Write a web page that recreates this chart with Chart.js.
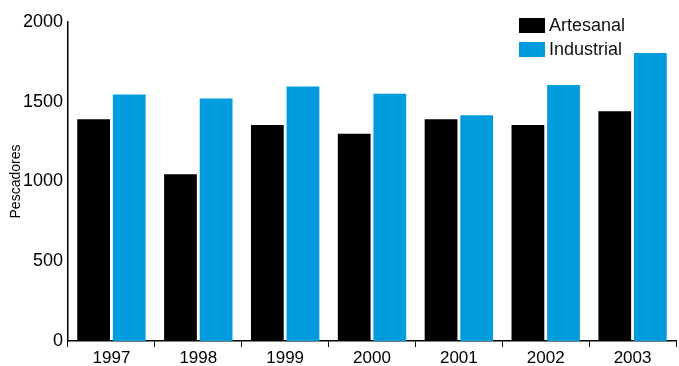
<!DOCTYPE html>
<html>
<head>
<meta charset="utf-8">
<script src="https://cdn.jsdelivr.net/npm/chart.js@4"></script>
<style>
  html, body { margin: 0; padding: 0; background: #fff; }
  #wrap { width: 679px; height: 366px; }
</style>
</head>
<body>
<div id="wrap"><canvas id="grafico"></canvas></div>
<script>
// Dados
var anos = ['1997', '1998', '1999', '2000', '2001', '2002', '2003'];
var artesanal = [1390, 1045, 1355, 1300, 1390, 1355, 1440];
var industrial = [1545, 1520, 1595, 1550, 1415, 1605, 1805];
var ticksY = [0, 500, 1000, 1500, 2000];

var fonte = "'Liberation Sans', Arial, sans-serif";

// Legenda dentro do gráfico, canto superior direito
var legendaPlugin = {
  id: 'legendaCaixa',
  afterDraw: function (chart) {
    var ctx = chart.ctx;
    ctx.save();
    ctx.font = '18px ' + fonte;
    ctx.textBaseline = 'middle';
    chart.data.datasets.forEach(function (ds, i) {
      var y = 18 + i * 24;
      ctx.fillStyle = ds.backgroundColor;
      ctx.fillRect(519, y, 26, 15);
      ctx.fillStyle = '#111';
      ctx.fillText(ds.label, 549, y + 8);
    });
    ctx.restore();
  }
};

var dados = {
  labels: anos,
  datasets: [
    { label: 'Artesanal', data: artesanal, backgroundColor: '#000000' },
    { label: 'Industrial', data: industrial, backgroundColor: '#009cde' }
  ]
};

var opcoes = {
  responsive: true,
  maintainAspectRatio: false,
  animation: false,
  layout: { padding: { top: 22, right: 3, left: 0, bottom: 0 } },
  datasets: {
    bar: { categoryPercentage: 0.82, barPercentage: 0.92 }
  },
  plugins: {
    legend: { display: false },
    tooltip: { enabled: false }
  },
  scales: {
    x: {
      grid: { display: true, offset: true, drawOnChartArea: false, drawTicks: true, tickLength: 6, color: '#000', lineWidth: 1 },
      border: { display: true, color: '#000', width: 1.5 },
      ticks: { color: '#000', font: { size: 17, family: fonte }, padding: 1 },
      afterFit: function (scale) { scale.height = 25; }
    },
    y: {
      min: 0,
      max: 2000,
      afterBuildTicks: function (scale) {
        scale.ticks = ticksY.map(function (v) { return { value: v }; });
      },
      grid: { display: false, drawTicks: false },
      border: { display: true, color: '#000', width: 1.5 },
      ticks: {
        color: '#000',
        font: { size: 18, family: fonte },
        padding: 5,
        callback: function (valor) { return String(valor); }
      },
      title: {
        display: true,
        text: 'Pescadores',
        color: '#000',
        font: { size: 14, family: fonte },
        padding: { top: 8, bottom: 0 }
      },
      afterFit: function (scale) { scale.width = 68; }
    }
  }
};

var ctxGrafico = document.getElementById('grafico').getContext('2d');
var grafico = new Chart(ctxGrafico, {
  type: 'bar',
  data: dados,
  options: opcoes,
  plugins: [legendaPlugin]
});
</script>
</body>
</html>
